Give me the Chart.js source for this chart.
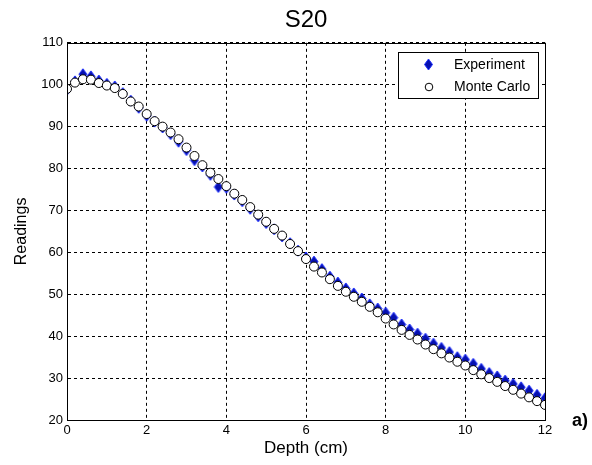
<!DOCTYPE html>
<html>
<head>
<meta charset="utf-8">
<script src="https://cdn.jsdelivr.net/npm/chart.js@4/dist/chart.umd.min.js"></script>
<style>
  body { margin: 0; background: #fff; }
  #wrap { width: 592px; height: 465px; }
</style>
</head>
<body>
<div id="wrap"><canvas id="depthChart" width="592" height="465"></canvas></div>
<script>
// depth positions in cm
let depth = [0, 0.2, 0.4, 0.6, 0.8, 1.0, 1.2, 1.4, 1.6, 1.8, 2.0, 2.2, 2.4, 2.6, 2.8, 3.0, 3.2, 3.4, 3.6, 3.8,
  4.0, 4.2, 4.4, 4.6, 4.8, 5.0, 5.2, 5.4, 5.6, 5.8, 6.0, 6.2, 6.4, 6.6, 6.8, 7.0, 7.2, 7.4, 7.6, 7.8,
  8.0, 8.2, 8.4, 8.6, 8.8, 9.0, 9.2, 9.4, 9.6, 9.8, 10.0, 10.2, 10.4, 10.6, 10.8, 11.0, 11.2, 11.4, 11.6, 11.8, 12.0];

let experiment = [98.8, 100.8, 102.5, 102, 101, 100.2, 99.6, 98, 96.2, 94.5, 92.6, 91.2, 89.8, 88.2, 86.4, 84.4, 82, 80.5, 78.5, 75.6,
  75.4, 73.8, 72.2, 70.4, 68.6, 67, 65.5, 63.8, 62.2, 60.4, 58.8, 57.8, 56, 54.2, 52.8, 51.4, 50.2, 49, 47.6, 46.6,
  45.6, 44.4, 42.8, 41.6, 40.6, 39.4, 38.2, 37.2, 36.2, 35, 34.4, 33.4, 32.2, 31.2, 30.4, 29.4, 28.6, 27.8, 27, 26, 25.2];

let monteCarlo = [99, 100.5, 101.3, 101.2, 100.4, 99.8, 99.2, 97.8, 96, 94.8, 93, 91.3, 90, 88.6, 87, 85, 83, 80.8, 79, 77.5,
  75.8, 74, 72.5, 70.8, 69, 67.3, 65.6, 64, 62, 60.3, 58.4, 56.6, 55.2, 53.6, 52, 50.6, 49.4, 48.2, 47, 45.7,
  44.2, 42.8, 41.5, 40.3, 39.2, 38, 36.9, 35.9, 34.9, 33.9, 33, 31.9, 30.9, 30, 29.1, 28.1, 27.2, 26.3, 25.4, 24.5, 23.6];

let xTicks = [0, 2, 4, 6, 8, 10, 12];
let yTicks = [20, 30, 40, 50, 60, 70, 80, 90, 100, 110];

const FONT = "'Liberation Sans', Arial, sans-serif";
const BLUE_FILL = "#0610b0";
const BLUE_EDGE = "#1a2cff";

function toPoints(values) {
  return values.map((v, i) => ({ x: depth[i], y: v }));
}

// tall diamond marker, a bit narrower than it is high
function diamondPath(c, cx, cy, hw, hh) {
  c.beginPath();
  c.moveTo(cx, cy - hh);
  c.lineTo(cx + hw, cy);
  c.lineTo(cx, cy + hh);
  c.lineTo(cx - hw, cy);
  c.closePath();
}

const diamond = document.createElement("canvas");
diamond.width = 10;
diamond.height = 13;
{
  const d = diamond.getContext("2d");
  diamondPath(d, 5, 6.5, 4, 5.5);
  d.fillStyle = BLUE_FILL;
  d.fill();
  d.strokeStyle = BLUE_EDGE;
  d.lineWidth = 1;
  d.stroke();
}

// solid axes box, legend box and the panel letter
const framePlugin = {
  id: "frame",
  afterDatasetsDraw(chart) {
    const { ctx, chartArea: a } = chart;
    ctx.save();
    ctx.strokeStyle = "#000";
    ctx.lineWidth = 1;
    ctx.strokeRect(Math.round(a.left) + 0.5, Math.round(a.top) + 0.5, Math.round(a.right - a.left), Math.round(a.bottom - a.top));

    // legend
    const lx = 398, ly = 52, lw = 140, lh = 46;
    ctx.fillStyle = "#fff";
    ctx.fillRect(lx, ly, lw, lh);
    ctx.strokeRect(lx + 0.5, ly + 0.5, lw, lh);

    diamondPath(ctx, 428.5, 64.5, 4, 5.5);
    ctx.fillStyle = BLUE_FILL;
    ctx.fill();
    ctx.strokeStyle = BLUE_EDGE;
    ctx.stroke();

    ctx.beginPath();
    ctx.arc(429, 87, 3.8, 0, Math.PI * 2);
    ctx.fillStyle = "#fff";
    ctx.fill();
    ctx.strokeStyle = "#000";
    ctx.stroke();

    ctx.fillStyle = "#000";
    ctx.font = "14px " + FONT;
    ctx.textBaseline = "middle";
    ctx.textAlign = "left";
    ctx.fillText("Experiment", 454, 65);
    ctx.fillText("Monte Carlo", 454, 87);

    ctx.font = "bold 18px " + FONT;
    ctx.textBaseline = "alphabetic";
    ctx.fillText("a)", 572, 426);
    ctx.restore();
  },
};

const ctx = document.getElementById("depthChart").getContext("2d");
const chart = new Chart(ctx, {
  type: "scatter",
  data: {
    datasets: [
      {
        label: "Monte Carlo",
        data: toPoints(monteCarlo),
        pointStyle: "circle",
        pointRadius: 4.5,
        pointBackgroundColor: "#fff",
        pointBorderColor: "#000",
        pointBorderWidth: 1,
        order: 0,
      },
      {
        label: "Experiment",
        data: toPoints(experiment),
        pointStyle: diamond,
        pointRadius: 5,
        order: 1,
      },
    ],
  },
  options: {
    responsive: false,
    animation: false,
    layout: { padding: { left: 0, right: 47, top: 0, bottom: 0 } },
    plugins: {
      legend: { display: false },
      tooltip: { enabled: false },
      title: {
        display: true,
        text: "S20",
        fullSize: false,
        color: "#000",
        font: { family: FONT, size: 24, weight: "normal" },
        padding: { top: 6, bottom: 8 },
      },
    },
    scales: {
      x: {
        type: "linear",
        min: 0,
        max: 12,
        afterBuildTicks: (axis) => { axis.ticks = xTicks.map((v) => ({ value: v })); },
        afterFit: (axis) => { axis.height = 45; },
        ticks: { color: "#000", font: { family: FONT, size: 13 }, padding: 3, maxRotation: 0 },
        grid: { color: "#000", drawTicks: false, tickLength: 0 },
        border: { display: true, color: "#000", dash: [3, 3] },
        title: { display: true, text: "Depth (cm)", color: "#000", font: { family: FONT, size: 17 }, padding: { top: 0, bottom: 6 } },
      },
      y: {
        min: 20,
        max: 110,
        afterBuildTicks: (axis) => { axis.ticks = yTicks.map((v) => ({ value: v })); },
        afterFit: (axis) => { axis.width = 67; },
        ticks: { color: "#000", font: { family: FONT, size: 13 }, padding: 4 },
        grid: { color: "#000", drawTicks: false, tickLength: 0 },
        border: { display: true, color: "#000", dash: [3, 3] },
        title: { display: true, text: "Readings", color: "#000", font: { family: FONT, size: 16 }, padding: { top: 12, bottom: 0 } },
      },
    },
  },
  plugins: [framePlugin],
});
</script>
</body>
</html>
